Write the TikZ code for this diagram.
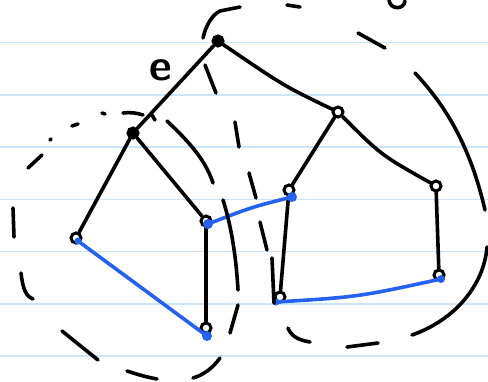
\documentclass[tikz,border=0pt]{standalone}
\usetikzlibrary{calc}
\definecolor{ruled}{RGB}{200,230,248}
\definecolor{pen}{RGB}{38,98,240}
\tikzset{
  hand/.style={line width=3.6pt,line cap=round,line join=round},
  vtx/.style={circle,draw,line width=3pt,inner sep=0pt,minimum size=10pt},
  edge/.style={line width=3.6pt,line cap=round},
  bedge/.style={line width=3.6pt,line cap=round,draw=pen},
  bdot/.style={circle,fill=pen,inner sep=0pt,minimum size=10pt},
}
\begin{document}
\begin{tikzpicture}[x=1pt,y=-1pt]
\useasboundingbox (0,0) rectangle (488,381);
% ruled paper
\foreach \i in {0,...,6}{
  \draw[ruled,line width=1.6pt] (0,{42.5+52.28*\i}) -- (488,{42.5+52.28*\i});
}
% vertices
\node[vtx,fill=black,minimum size=10pt] (A) at (218,41) {};
\node[vtx,fill=black,minimum size=10pt] (B) at (133,133) {};
\node[vtx] (C) at (338,112) {};
\node[vtx] (D) at (76,238) {};
\node[vtx] (E) at (206,221) {};
\node[vtx] (F) at (206,328) {};
\node[vtx] (G) at (289,190) {};
\node[vtx] (H) at (280,297) {};
\node[vtx] (I) at (436,186) {};
\node[vtx] (J) at (439,275) {};
% black edges
\draw[edge] (A) .. controls (284,86) .. (C);
\draw[edge] (A) -- (B);
\draw[edge] (B) -- (D);
\draw[edge] (B) -- (E);
\draw[edge] (E) -- (F);
\draw[edge] (C) -- (G);
\draw[edge] (C) .. controls (381,155) .. (I);
\draw[edge] (G) -- (H);
\draw[edge] (I) -- (J);
% blue dots
\node[bdot,minimum size=7pt] (Db) at (78,241) {};
\node[bdot] (Eb) at (208,224) {};
\node[bdot] (Fb) at (207,336) {};
\node[bdot] (Gb) at (292,197) {};
\node[bdot,minimum size=7pt] (Hb) at (276,302) {};
\node[bdot,minimum size=8pt] (Jb) at (441,279) {};
% blue edges
\draw[bedge] (Db.center) -- (Fb.center);
\draw[bedge] (Eb.center) .. controls (252,207) .. (Gb.center);
\draw[bedge] (Hb.center) .. controls (358,297) .. (Jb.center);
% label e
\node[font=\fontsize{44}{44}\selectfont\sffamily\bfseries,inner sep=0pt] (lab) at (161,70) {e};
% partial glyph at top right
\draw[hand] (389,0) .. controls (390,10) and (404,10) .. (405,1);
% left dashed ellipse
\draw[hand] (28,168) -- (42,155);
\draw[hand] (50,140) -- (51,139);
\draw[hand] (72,126) -- (78,124);
\draw[hand] (102,113) -- (105,114);
\draw[hand] (123,113) .. controls (130,112) and (137,113) .. (143,115);
\draw[hand] (152,115) -- (155,120);
\draw[hand] (167,121) .. controls (185,138) and (205,158) .. (213,183);
\draw[hand] (223,200) .. controls (231,225) and (236,255) .. (238,290);
\draw[hand] (238,305) -- (230,333);
\draw[hand] (220,358) .. controls (212,369) and (203,375) .. (193,378);
\draw[hand] (157,379) .. controls (146,377) and (136,374) .. (127,371);
\draw[hand] (98,360) -- (62,331);
\draw[hand] (33,299) .. controls (26,296) and (23,290) .. (21,273);
\draw[hand] (14,237) -- (13,208);
% right dashed ellipse
\draw[hand] (203,38) .. controls (206,25) and (212,15) .. (220,11) -- (240,7);
\draw[hand] (287,5) -- (300,7);
\draw[hand] (358,33) -- (385,48);
\draw[hand] (415,73) .. controls (445,105) and (470,145) .. (485,210);
\draw[hand] (487,247) .. controls (484,285) and (455,320) .. (412,335);
\draw[hand] (378,343) -- (347,347);
\draw[hand] (310,342) .. controls (298,340) and (291,336) .. (288,328);
\draw[hand] (272,258) -- (274,303);
\draw[hand] (260,222) -- (267,250);
\draw[hand] (249,173) -- (256,198);
\draw[hand] (235,122) -- (239,147);
\draw[hand] (205,65) -- (216,93);
\end{tikzpicture}
\end{document}
